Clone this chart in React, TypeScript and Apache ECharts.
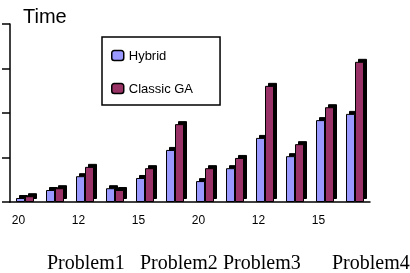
import React, { useEffect, useRef } from "react";
import * as echarts from "echarts";

const categories = ["20", "20b", "12", "12b", "15", "15b", "20", "20b", "12", "12b", "15", "15b"];
const tickLabels = ["20", "", "12", "", "15", "", "20", "", "12", "", "15", ""];
const hybrid = [0.09, 0.27, 0.58, 0.31, 0.54, 1.17, 0.47, 0.76, 1.44, 1.03, 1.84, 1.98];
const classicGA = [0.13, 0.31, 0.79, 0.27, 0.76, 1.75, 0.76, 0.99, 2.61, 1.3, 2.13, 3.15];
const problems = ["Problem1", "Problem2", "Problem3", "Problem4"];
const problemX = [47, 140, 223, 332];

export default function App() {
  const ref = useRef<HTMLDivElement>(null);
  useEffect(() => {
    const chart = echarts.init(ref.current!, undefined, { renderer: "svg" });
    const barStyle = (color: string) => ({
      color,
      borderColor: "#000",
      borderWidth: 1,
      shadowColor: "#000",
      shadowOffsetX: 3,
      shadowOffsetY: -3,
      shadowBlur: 0,
    });
    chart.setOption({
      animation: false,
      grid: { left: 10, right: 40, top: 24, bottom: 71 },
      legend: {
        orient: "vertical",
        left: 102,
        top: 37,
        padding: [12, 27, 10, 9],
        itemGap: 20,
        itemWidth: 12,
        itemHeight: 10,
        borderColor: "#000",
        borderWidth: 1.5,
        textStyle: { fontFamily: "Liberation Sans", fontSize: 13, color: "#000" },
        data: [
          { name: "Hybrid", itemStyle: { color: "#9999ff", borderColor: "#000", borderWidth: 1.5, shadowColor: "transparent" } },
          { name: "Classic GA", itemStyle: { color: "#993366", borderColor: "#000", borderWidth: 1.5, shadowColor: "transparent" } },
        ],
      },
      xAxis: {
        type: "category",
        data: categories,
        axisLine: { lineStyle: { color: "#000", width: 1.5 } },
        axisTick: { length: 7, interval: 0, lineStyle: { color: "#000", width: 1.5 } },
        axisLabel: {
          interval: 0,
          margin: 12,
          padding: [0, 13, 0, 0],
          fontFamily: "Liberation Sans",
          fontSize: 12,
          color: "#000",
          formatter: (_v: string, i: number) => tickLabels[i],
        },
      },
      yAxis: {
        type: "value",
        min: 0,
        max: 4,
        interval: 1,
        axisLine: { show: true, lineStyle: { color: "#000", width: 1.5 } },
        axisTick: { show: true, length: 8, lineStyle: { color: "#000", width: 1.5 } },
        axisLabel: { show: false },
        splitLine: { show: false },
      },
      series: [
        { name: "Hybrid", type: "bar", data: hybrid, barWidth: 9, barGap: "0%", itemStyle: barStyle("#9999ff") },
        { name: "Classic GA", type: "bar", data: classicGA, barWidth: 9, barGap: "0%", itemStyle: barStyle("#993366") },
      ],
      graphic: [
        {
          type: "text",
          x: 23,
          y: 16,
          style: { text: "Time", font: '20px "Liberation Sans"', fill: "#000", verticalAlign: "middle" },
        },
        ...problems.map((p, i) => ({
          type: "text",
          x: problemX[i],
          y: 262,
          style: { text: p, font: '20px "Liberation Serif"', fill: "#000", verticalAlign: "middle" },
        })),
      ],
    });
    return () => chart.dispose();
  }, []);
  return <div ref={ref} style={{ position: "fixed", left: 0, top: 0, width: 410, height: 273 }} />;
}
